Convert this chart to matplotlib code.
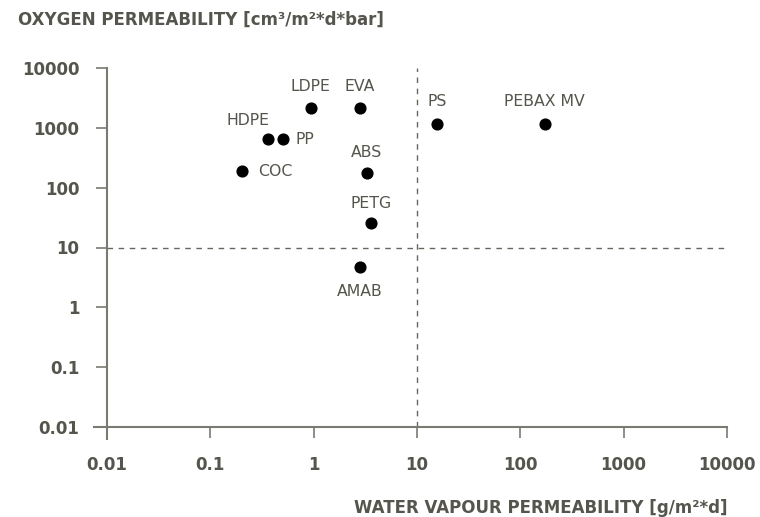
import numpy as np
import matplotlib
matplotlib.use("Agg")
import matplotlib.pyplot as plt

# materialy i wartosci
materials = ["LDPE", "EVA", "HDPE", "PP", "COC", "ABS", "PETG", "AMAB", "PS", "PEBAX MV"]
water_vapour = [0.935, 2.79, 0.359, 0.508, 0.204, 3.26, 3.61, 2.79, 15.7, 172]
oxygen = [2170, 2170, 643, 643, 190, 174, 25.4, 4.67, 1159, 1159]

# polozenie etykiet wzgledem punktu (piksele)
label_pos = {
    "LDPE": (0, 21, "center"), "EVA": (0, 21, "center"),
    "HDPE": (-20, 19, "center"), "PP": (12, 0, "left"),
    "COC": (16, -1, "left"), "ABS": (0, 21, "center"),
    "PETG": (0, 20, "center"), "AMAB": (0, -24, "center"),
    "PS": (0, 22, "center"), "PEBAX MV": (0, 22, "center"),
}

txt = "#55554e"
axc = "#7a7a72"

plt.rcParams['font.family'] = ['DejaVu Sans']

fig = plt.figure(figsize=(7.6, 5.17), dpi=100)
ax = fig.add_axes([107/760, 1-427/517, 620/760, 359/517])
ax.set_xscale('log')
ax.set_yscale('log')
ax.set_xlim(0.01, 10000)
ax.set_ylim(0.01, 10000)

ax.axvline(10, color="#66665f", lw=1, ls=(0, (4, 4)))
ax.axhline(10, color="#66665f", lw=1, ls=(0, (4, 4)))

ax.scatter(water_vapour, oxygen, s=60, color='black', zorder=3)
for name, x, y in zip(materials, water_vapour, oxygen):
    dx, dy, ha = label_pos[name]
    ax.annotate(name, (x, y), xytext=(dx, dy), textcoords='offset pixels',
                ha=ha, va='center', fontsize=11.3, color=txt)

ticks = [0.01, 0.1, 1, 10, 100, 1000, 10000]
tlabels = ["0.01", "0.1", "1", "10", "100", "1000", "10000"]
ax.set_xticks(ticks)
ax.set_xticklabels(tlabels)
ax.set_yticks(ticks)
ax.set_yticklabels(tlabels)
ax.minorticks_off()
for lab in ax.get_xticklabels() + ax.get_yticklabels():
    lab.set_fontweight('bold')
ax.tick_params(colors=axc, labelcolor=txt, labelsize=12, width=1.2, length=8)
ax.tick_params(axis='x', pad=13)
ax.tick_params(axis='y', pad=12)

for s in ['top', 'right']:
    ax.spines[s].set_visible(False)
for s in ['left', 'bottom']:
    ax.spines[s].set_color(axc)
    ax.spines[s].set_linewidth(1.5)
ax.spines['left'].set_bounds(0.0063, 10000)
ax.spines['bottom'].set_bounds(0.0075, 10000)

fig.text(18/760, 1-20/517, "OXYGEN PERMEABILITY [cm³/m²*d*bar]",
         fontsize=12, fontweight='bold', color=txt, va='center', ha='left')
fig.text(727/760, 1-508/517, "WATER VAPOUR PERMEABILITY [g/m²*d]",
         fontsize=12, fontweight='bold', color=txt, va='center', ha='right')

fig.savefig("out.png", dpi=100)
